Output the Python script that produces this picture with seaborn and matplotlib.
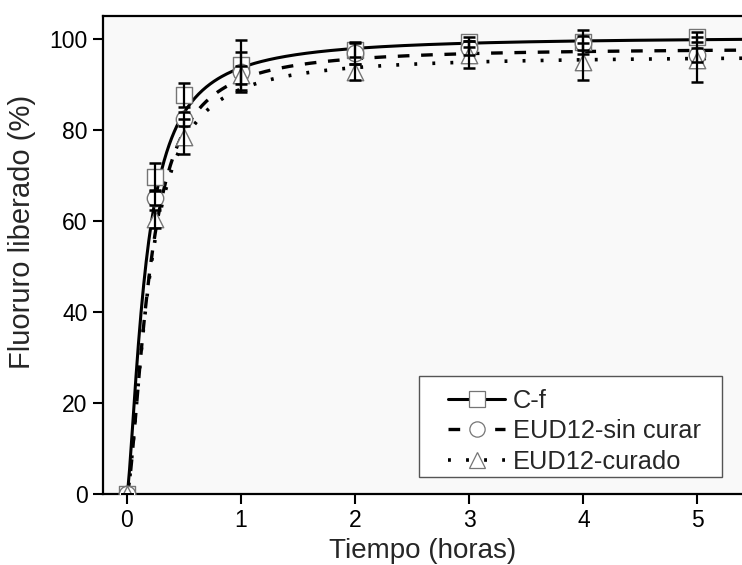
import numpy as np
import pandas as pd
import matplotlib
matplotlib.use("Agg")
import matplotlib.pyplot as plt
from matplotlib.patches import Rectangle
import seaborn as sns

# Sampling times (hours)
tiempo = [0, 0.25, 0.5, 1, 2, 3, 4, 5]

# Mean fluoride released (%) and standard deviations for each material
cf_media = [0, 69.7, 87.7, 94.3, 97.6, 99.3, 99.3, 100.4]
cf_sd = [0, 3.0, 2.6, 5.5, 1.5, 1.1, 2.7, 1.1]

sin_curar_media = [0, 65.0, 82.4, 92.7, 96.9, 98.0, 99.1, 96.5]
sin_curar_sd = [0, 1.5, 1.5, 4.3, 2.4, 1.5, 1.5, 1.5]

curado_media = [0, 60.4, 78.5, 92.0, 92.7, 96.5, 95.0, 95.4]
curado_sd = [0, 2.0, 3.8, 2.0, 1.8, 2.9, 4.0, 4.9]

# Sigmoidal (Hill-type) release fit: plateau (%), half-release time (h), exponent
fit_cf = [100.5, 0.165, 1.45]
fit_sin_curar = [98.0, 0.20, 1.6]
fit_curado = [96.3, 0.20, 1.55]

series_names = ["C-f", "EUD12-sin curar", "EUD12-curado"]

sns.set_style("ticks")
plt.rcParams["font.family"] = ["Liberation Sans", "DejaVu Sans"]

fig = plt.figure(figsize=(7.42, 5.65), dpi=100)
ax = fig.add_axes([0.1388, 0.1257, 0.8612, 0.8460])
ax.set_facecolor("#f9f9f9")


def hill(t, p):
    a, k, n = p
    t = np.asarray(t, dtype=float)
    return a * t ** n / (k ** n + t ** n)


t_fine = np.linspace(0, 5.6, 500)
curve_styles = [
    dict(linestyle="-", lw=2.2),
    dict(linestyle=(0, (3.5, 3.5)), lw=2.4),
    dict(linestyle=(0, (0.8, 4.2)), lw=2.6),
]
markers = ["s", "o", "^"]
means = [cf_media, sin_curar_media, curado_media]
sds = [cf_sd, sin_curar_sd, curado_sd]
fits = [fit_cf, fit_sin_curar, fit_curado]

handles = []
for name, m, s, p, st, mk in zip(series_names, means, sds, fits, curve_styles, markers):
    curve = pd.DataFrame({"t": t_fine, "y": hill(t_fine, p)})
    sns.lineplot(data=curve, x="t", y="y", ax=ax, color="black",
                 linestyle=st["linestyle"], lw=st["lw"], zorder=2)
    pts = pd.DataFrame({"t": tiempo, "y": m})
    sns.scatterplot(data=pts, x="t", y="y", ax=ax, marker=mk, s=140,
                    facecolor="white", edgecolor="#757575", linewidth=1.0,
                    zorder=3)
    ax.errorbar(tiempo, m, yerr=s, fmt="none", ecolor="black",
                elinewidth=1.6, capsize=4.5, capthick=1.8, zorder=4)
    h, = ax.plot([], [], color="black", linestyle=st["linestyle"], lw=st["lw"],
                 marker=mk, markersize=11, markerfacecolor="white",
                 markeredgecolor="#757575", markeredgewidth=0.9)
    handles.append(h)

ax.set_xlim(-0.21, 5.39)
ax.set_ylim(0, 105)
ax.set_xticks([0, 1, 2, 3, 4, 5])
ax.set_yticks([0, 20, 40, 60, 80, 100])
ax.tick_params(axis="both", direction="out", length=7, width=1.5,
               labelsize=16.5, colors="black", pad=4)
for side in ["left", "bottom", "top"]:
    ax.spines[side].set_linewidth(1.6)
    ax.spines[side].set_color("black")
ax.spines["top"].set_visible(True)
ax.spines["right"].set_visible(False)

ax.set_xlabel("Tiempo (horas)", fontsize=20, labelpad=4)
ax.set_ylabel("Fluoruro liberado (%)", fontsize=21)
ax.yaxis.set_label_coords(-0.105, 0.548)

# Legend box, with the entries placed inside it
ax.add_patch(Rectangle((0.4945, 0.0356), 0.4742, 0.2113, transform=ax.transAxes,
                       facecolor="white", edgecolor="#555555", lw=1.0, zorder=5))
leg = ax.legend(handles, series_names, loc="center left",
                bbox_to_anchor=(0.540, 0.131), borderaxespad=0, borderpad=0,
                fontsize=18.3, frameon=False, handlelength=2.25,
                handletextpad=0.3, labelspacing=0.25)
leg.set_zorder(6)

fig.savefig("out.png", dpi=100)
